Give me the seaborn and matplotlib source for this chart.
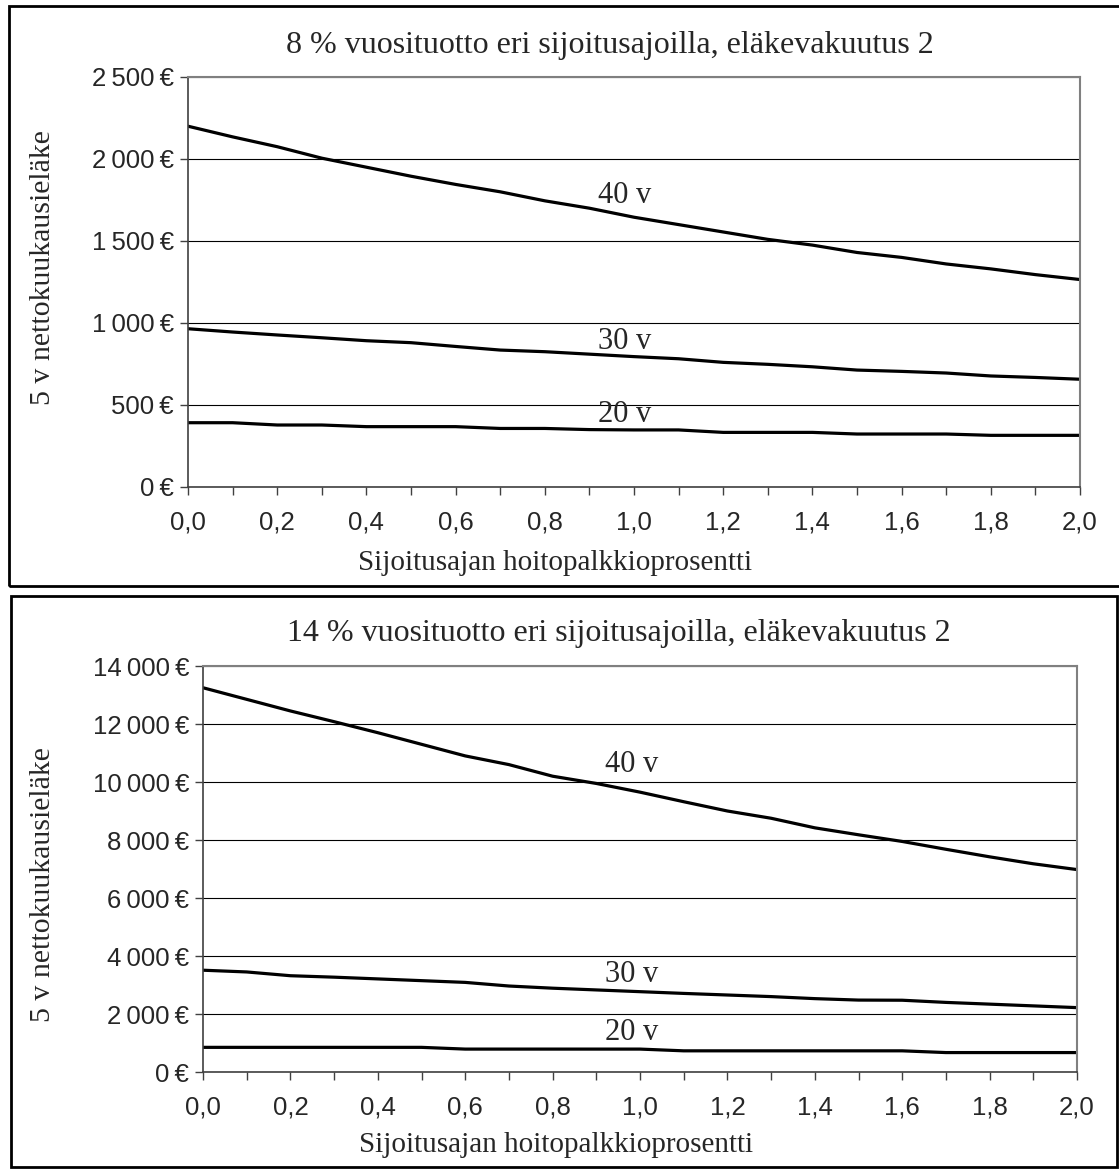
import numpy as np
import pandas as pd
import matplotlib
matplotlib.use('Agg')
import matplotlib.pyplot as plt
from matplotlib.patches import Rectangle
from matplotlib.ticker import FuncFormatter, MultipleLocator
import seaborn as sns

# hoitopalkkio-% (x-akseli)
fee = [0.0, 0.1, 0.2, 0.3, 0.4, 0.5, 0.6, 0.7, 0.8, 0.9, 1.0,
       1.1, 1.2, 1.3, 1.4, 1.5, 1.6, 1.7, 1.8, 1.9, 2.0]
periods = ['20 v', '30 v', '40 v']

# 8 % vuosituotto
top_20 = [392, 392, 378, 378, 368, 368, 368, 357, 357, 350, 348,
          348, 333, 333, 333, 323, 323, 323, 315, 315, 315]
top_30 = [965, 945, 927, 910, 892, 880, 857, 835, 825, 810, 795,
          782, 760, 748, 733, 713, 705, 695, 677, 668, 657]
top_40 = [2200, 2135, 2075, 2005, 1950, 1895, 1845, 1800, 1745, 1700, 1645,
          1600, 1555, 1510, 1475, 1430, 1400, 1360, 1330, 1295, 1265]

# 14 % vuosituotto
bot_20 = [850, 850, 850, 850, 850, 850, 790, 790, 790, 790, 790,
          730, 730, 730, 730, 730, 730, 670, 670, 670, 670]
bot_30 = [3510, 3450, 3320, 3270, 3210, 3150, 3090, 2965, 2890, 2830, 2770,
          2710, 2655, 2600, 2530, 2480, 2475, 2400, 2340, 2280, 2220]
bot_40 = [13250, 12850, 12450, 12080, 11700, 11300, 10900, 10600, 10200, 9950, 9650,
          9320, 9000, 8750, 8420, 8180, 7950, 7680, 7420, 7180, 6980]

titles = ['8 % vuosituotto eri sijoitusajoilla, eläkevakuutus 2',
          '14 % vuosituotto eri sijoitusajoilla, eläkevakuutus 2']
ylabel = '5 v nettokuukausieläke'
xlabel = 'Sijoitusajan hoitopalkkioprosentti'

W, H = 1119, 1169
sns.set_style('white')
plt.rcParams['font.family'] = ['Liberation Serif', 'DejaVu Serif']

SANS = ['Liberation Sans', 'DejaVu Sans']
SERIF = ['Liberation Serif', 'DejaVu Serif']


def euro(v, pos):
    return f"{int(round(v)):,}".replace(',', '\u2009') + '\u2009€'


def make_df(s20, s30, s40):
    rows = []
    for name, vals in zip(periods, [s20, s30, s40]):
        for x, y in zip(fee, vals):
            rows.append({'fee': x, 'pension': y, 'period': name})
    return pd.DataFrame(rows)


def fx(px):
    return px / W


def fy(py):
    return 1 - py / H


def draw_panel(fig, rect, df, ymax, ystep, label_y):
    ax = fig.add_axes(rect)
    sns.lineplot(data=df, x='fee', y='pension', units='period', estimator=None,
                 color='black', linewidth=2.3, ax=ax, legend=False)
    ax.set_xlim(0, 2.0)
    ax.set_ylim(0, ymax)
    ax.xaxis.set_major_locator(MultipleLocator(0.2))
    ax.xaxis.set_minor_locator(MultipleLocator(0.1))
    ax.yaxis.set_major_locator(MultipleLocator(ystep))
    ax.xaxis.set_major_formatter(FuncFormatter(lambda v, p: f"{v:.1f}".replace('.', ',')))
    ax.yaxis.set_major_formatter(FuncFormatter(euro))
    ax.grid(axis='y', color='black', linewidth=0.8)
    ax.grid(axis='x', visible=False)
    ax.set_axisbelow(True)
    for side in ['top', 'right']:
        ax.spines[side].set_color('#808080')
        ax.spines[side].set_linewidth(1.5)
    for side in ['left', 'bottom']:
        ax.spines[side].set_color('#404040')
        ax.spines[side].set_linewidth(1.2)
    ax.tick_params(axis='both', which='both', direction='out', length=6,
                   width=1, color='#404040', left=True, bottom=True)
    ax.tick_params(axis='y', pad=4)
    ax.tick_params(axis='x', pad=11)
    for lab in ax.get_xticklabels() + ax.get_yticklabels():
        lab.set_fontfamily(SANS)
        lab.set_fontsize(18.5)
    ax.set_xlabel('')
    ax.set_ylabel('')
    for name, yv in zip(periods, label_y):
        ax.text(0.98, yv, name, ha='center', va='center', fontsize=22,
                family=SERIF)
    return ax


fig = plt.figure(figsize=(W / 100, H / 100), dpi=100)

# reunakehykset
fig.patches.append(Rectangle((fx(9), fy(586)), fx(1125) - fx(9), fy(6) - fy(586),
                             transform=fig.transFigure, fill=False,
                             edgecolor='black', linewidth=2))
fig.patches.append(Rectangle((fx(11), fy(1167)), fx(1117) - fx(11), fy(596) - fy(1167),
                             transform=fig.transFigure, fill=False,
                             edgecolor='black', linewidth=2))

# ylempi kaavio
draw_panel(fig, [fx(188), fy(487), fx(1080) - fx(188), fy(77) - fy(487)],
           make_df(top_20, top_30, top_40), 2500, 500, [440, 890, 1780])
fig.text(fx(610), fy(45), titles[0], ha='center', va='center', fontsize=23, family=SERIF)
fig.text(fx(43), fy(268), ylabel, ha='center', va='center', rotation=90,
         fontsize=21.5, family=SERIF)
fig.text(fx(555), fy(563), xlabel, ha='center', va='center', fontsize=21, family=SERIF)

# alempi kaavio
draw_panel(fig, [fx(203), fy(1072), fx(1077) - fx(203), fy(666) - fy(1072)],
           make_df(bot_20, bot_30, bot_40), 14000, 2000, [1350, 3350, 10600])
fig.text(fx(619), fy(633), titles[1], ha='center', va='center', fontsize=23, family=SERIF)
fig.text(fx(43), fy(885), ylabel, ha='center', va='center', rotation=90,
         fontsize=21.5, family=SERIF)
fig.text(fx(556), fy(1145), xlabel, ha='center', va='center', fontsize=21, family=SERIF)

fig.savefig('out.png', dpi=100)
